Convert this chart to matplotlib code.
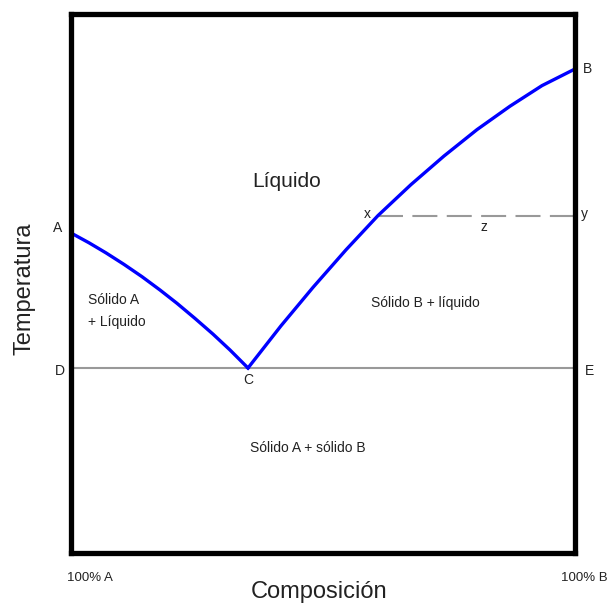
import matplotlib.pyplot as plt

plt.rcParams['font.family'] = ['Liberation Sans', 'DejaVu Sans']

# liquidus A -> C (composition %B, temperature, arbitrary units)
comp_left = [0, 3.57, 6.94, 10.52, 14.09, 17.66, 21.03, 24.60, 28.17, 31.55, 35.12]
temp_left = [59.37, 57.55, 55.68, 53.54, 51.26, 48.79, 46.32, 43.52, 40.61, 37.66, 34.32]
# liquidus C -> B
comp_right = [35.12, 41.67, 48.02, 54.56, 60.91, 67.46, 74.01, 80.56, 87.10, 93.45, 100]
temp_right = [34.32, 42.15, 49.28, 56.24, 62.6, 68.35, 73.65, 78.55, 82.89, 86.71, 89.80]

t_eutectic = 34.32
t_tie = 62.6
x_tie = 60.9

fig = plt.figure(figsize=(6.1, 6.06), dpi=100)
ax = fig.add_axes([0.1164, 0.0875, 0.8262, 0.8894])
ax.set_xlim(0, 100)
ax.set_ylim(0, 100)
ax.set_xticks([])
ax.set_yticks([])
for s in ax.spines.values():
    s.set_linewidth(3.8)
    s.set_color('black')

ax.plot([0, 100], [t_eutectic, t_eutectic], color='#999999', lw=1.5, zorder=1)
ax.plot([x_tie, 100], [t_tie, t_tie], color='#999999', lw=1.5, dashes=(12, 4.5), zorder=1)
ax.plot(comp_left, temp_left, color='#0000ff', lw=2.4, zorder=2)
ax.plot(comp_right, temp_right, color='#0000ff', lw=2.4, zorder=2)

tc = '#222222'
small = 10
ax.text(-1.8, temp_left[0] + 1, 'A', ha='right', va='center', fontsize=small, color=tc, clip_on=False)
ax.text(101.5, temp_right[-1], 'B', ha='left', va='center', fontsize=small, color=tc, clip_on=False)
ax.text(-1.2, t_eutectic - 0.5, 'D', ha='right', va='center', fontsize=small, color=tc, clip_on=False)
ax.text(102.0, t_eutectic - 0.5, 'E', ha='left', va='center', fontsize=small, color=tc, clip_on=False)
ax.text(comp_left[-1], t_eutectic - 1.0, 'C', ha='center', va='top', fontsize=small, color=tc)
ax.text(x_tie - 1.4, t_tie + 0.3, 'x', ha='right', va='center', fontsize=small, color=tc)
ax.text(101.1, t_tie + 0.3, 'y', ha='left', va='center', fontsize=small, color=tc, clip_on=False)
ax.text(82.0, t_tie - 0.9, 'z', ha='center', va='top', fontsize=small, color=tc)

ax.text(42.7, 69.0, 'Líquido', ha='center', va='center', fontsize=15, color=tc)
ax.text(3.3, 44.9, 'Sólido A\n+ Líquido', ha='left', va='center', fontsize=small,
        color=tc, linespacing=1.65)
ax.text(70.4, 46.4, 'Sólido B + líquido', ha='center', va='center', fontsize=small, color=tc)
ax.text(47.0, 19.5, 'Sólido A + sólido B', ha='center', va='center', fontsize=small, color=tc)

fig.text(89.5 / 610, 1 - 578 / 606, '100% A', ha='center', va='center', fontsize=9.5, color=tc)
fig.text(584 / 610, 1 - 578 / 606, '100% B', ha='center', va='center', fontsize=9.5, color=tc)
fig.text(319 / 610, 1 - 592 / 606, 'Composición', ha='center', va='center', fontsize=17, color=tc)
fig.text(25 / 610, 1 - 289 / 606, 'Temperatura', ha='center', va='center', fontsize=17,
         color=tc, rotation=90)

fig.savefig('out.png', dpi=100)
